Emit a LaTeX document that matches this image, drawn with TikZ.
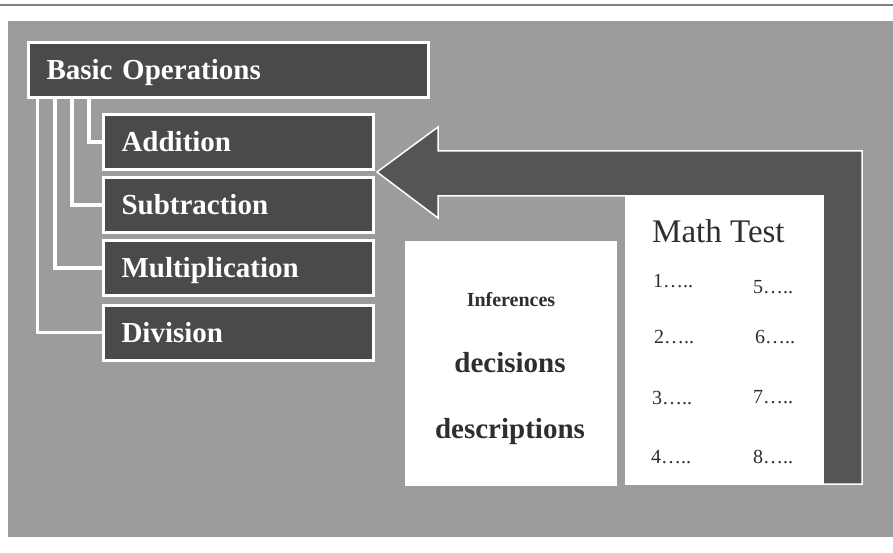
\documentclass[tikz,border=0pt]{standalone}
\usepackage{fontspec}
\setmainfont{Liberation Serif}
\definecolor{panelgray}{HTML}{9C9C9C}
\definecolor{boxdark}{HTML}{4A4A4A}
\definecolor{arrowdark}{HTML}{555555}
\definecolor{inkdark}{HTML}{2E2E2E}
\definecolor{rulegray}{HTML}{808080}
\begin{document}
\begin{tikzpicture}[x=1pt,y=-1pt,
  opbox/.style={draw=white, line width=3pt, fill=boxdark, text=white,
    font=\fontsize{29}{30}\selectfont\bfseries, anchor=west,
    inner xsep=18.5pt, inner ysep=0pt, text height=19pt, text depth=0pt,
    minimum height=55pt, align=left},
  conn/.style={draw=white, line width=3.5pt},
  paper/.style={fill=white, draw=none, anchor=north west, inner sep=0pt},
  itemtext/.style={anchor=base west, inner sep=0pt, text=inkdark,
    font=\fontsize{20}{22}\selectfont},
  bigword/.style={anchor=base, inner sep=0pt, text=inkdark,
    font=\fontsize{29}{30}\selectfont\bfseries}]
  \useasboundingbox (0,0) rectangle (893,553);

  % rule and textured panel
  \draw[rulegray, line width=1.5pt] (0,5) -- (893,5);
  \fill[panelgray] (8,21) rectangle (893,537);

  % bent feedback arrow
  \fill[arrowdark, draw=white, line width=1.5pt, line join=miter]
    (377,172) -- (438,127) -- (438,151) -- (862,151) -- (862,484)
    -- (823,484) -- (823,196) -- (438,196) -- (438,218) -- cycle;

  % the two sheets
  \node[paper, minimum width=198pt, minimum height=289pt] (test) at (625,196) {};
  \node[paper, minimum width=212pt, minimum height=245pt] (infer) at (405,241) {};

  % connectors from the main box
  \node[opbox, text width=363pt] (bo) at (26.5,70) {Basic Operations};
  \draw[conn] ([xshift=11pt]bo.south west) |- (101.5,332.5) coordinate (divin);
  \draw[conn] ([xshift=28.5pt]bo.south west) |- (101.5,268) coordinate (mulin);
  \draw[conn] ([xshift=45.5pt]bo.south west) |- (101.5,205) coordinate (subin);
  \draw[conn] ([xshift=62.5pt]bo.south west) |- (101.5,142) coordinate (addin);

  % operation boxes
  \node[opbox, text width=233pt] (add) at (addin) {Addition};
  \node[opbox, text width=233pt] (sub) at (subin) {Subtraction};
  \node[opbox, text width=233pt] (mul) at (mulin) {Multiplication};
  \node[opbox, text width=233pt] (div) at (divin) {Division};

  % math test sheet
  \node[anchor=base west, inner sep=0pt, text=inkdark,
    font=\fontsize{33}{36}\selectfont] (title) at (652,242) {Math Test};
  \node[itemtext] (q1) at (653,287) {1…..};
  \node[itemtext] (q5) at (753,293) {5…..};
  \node[itemtext] (q2) at (654,343) {2…..};
  \node[itemtext] (q6) at (755,343) {6…..};
  \node[itemtext] (q3) at (652,404) {3…..};
  \node[itemtext] (q7) at (753,403) {7…..};
  \node[itemtext] (q4) at (651,463) {4…..};
  \node[itemtext] (q8) at (753,463) {8…..};

  % inferences sheet
  \node[anchor=base, inner sep=0pt, text=inkdark,
    font=\fontsize{20}{22}\selectfont\bfseries] (inf) at (511,306) {Inferences};
  \node[bigword] (dec) at (510,372) {decisions};
  \node[bigword] (des) at (510,438) {descriptions};
\end{tikzpicture}
\end{document}
